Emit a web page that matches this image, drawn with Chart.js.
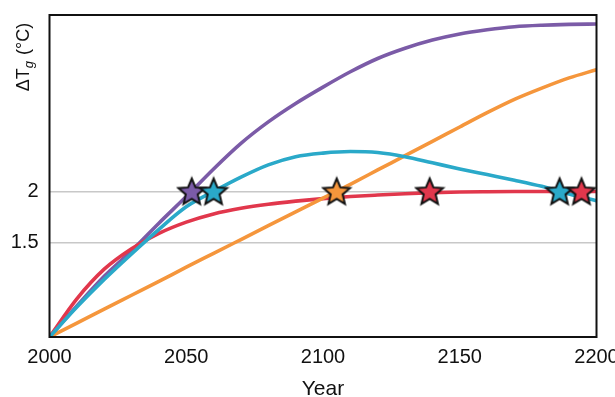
<!DOCTYPE html>
<html>
<head>
<meta charset="utf-8">
<script src="https://cdn.jsdelivr.net/npm/chart.js@4"></script>
<style>
  html, body { margin: 0; padding: 0; background: #fff; }
</style>
</head>
<body>
<canvas id="chart" width="615" height="397"></canvas>
<script>
// data
const years = [2000, 2010, 2020, 2030, 2040, 2050, 2060, 2070, 2080, 2090, 2100,
               2110, 2120, 2130, 2140, 2150, 2160, 2170, 2180, 2190, 2200];
const purpleVals = [0.577, 0.88, 1.17, 1.42, 1.69, 1.95, 2.22, 2.47, 2.68, 2.86, 3.02,
                    3.17, 3.30, 3.40, 3.48, 3.54, 3.58, 3.61, 3.625, 3.633, 3.637];
const cyanVals   = [0.577, 0.87, 1.14, 1.39, 1.63, 1.85, 2.0, 2.14, 2.26, 2.34, 2.375,
                    2.39, 2.38, 2.34, 2.28, 2.22, 2.165, 2.11, 2.05, 1.975, 1.91];
const redVals    = [0.577, 0.95, 1.24, 1.44, 1.59, 1.70, 1.78, 1.835, 1.875, 1.905, 1.93,
                    1.95, 1.965, 1.978, 1.988, 1.994, 1.997, 1.999, 2.0, 2.0, 2.0];
const orangeVals = [0.577, 0.713, 0.85, 0.985, 1.12, 1.26, 1.395, 1.53, 1.665, 1.80, 1.935,
                    2.07, 2.21, 2.35, 2.49, 2.63, 2.77, 2.90, 3.01, 3.11, 3.19];

// stars where each path hits 2 degrees
const starYears  = [2052, 2060, 2105, 2139, 2186.5, 2194.5];
const starValues = [2, 2, 2, 2, 2, 2];
const starSeries = ['purple', 'cyan', 'orange', 'red', 'cyan', 'red'];

const yTicks = [1.5, 2];
const xTicks = [2000, 2050, 2100, 2150, 2200];

const colors = {
  purple: '#7b5ba7',
  cyan: '#2aa9c9',
  red: '#e1374c',
  orange: '#f5963c'
};

const FONT = '"Liberation Sans", Arial, sans-serif';

function makeStar(color) {
  const c = document.createElement('canvas');
  c.width = 32; c.height = 32;
  const g = c.getContext('2d');
  g.beginPath();
  for (let i = 0; i < 10; i++) {
    const r = i % 2 ? 6.3 : 14;
    const a = -Math.PI / 2 + i * Math.PI / 5;
    g.lineTo(16 + r * Math.cos(a), 17 + r * Math.sin(a));
  }
  g.closePath();
  g.fillStyle = color;
  g.fill();
  g.lineWidth = 2;
  g.strokeStyle = '#111';
  g.stroke();
  return c;
}

function toPoints(xs, ys) {
  return xs.map((x, i) => ({ x: x, y: ys[i] }));
}

function lineSet(vals, color, order) {
  return {
    data: toPoints(years, vals),
    borderColor: color,
    borderWidth: 3.6,
    pointRadius: 0,
    cubicInterpolationMode: 'monotone',
    fill: false,
    order: order
  };
}

const frame = {
  id: 'frame',
  afterDraw(chart) {
    const { ctx, chartArea: a } = chart;
    ctx.save();
    ctx.strokeStyle = '#111';
    ctx.lineWidth = 2;
    ctx.strokeRect(a.left, a.top, a.right - a.left, a.bottom - a.top);

    // y axis title with subscript g
    ctx.translate(24, 57);
    ctx.rotate(-Math.PI / 2);
    ctx.fillStyle = '#111';
    ctx.textBaseline = 'middle';
    const big = '18px ' + FONT;
    const sub = 'italic 13px ' + FONT;
    ctx.font = big;
    const w1 = ctx.measureText('\u0394T').width;
    const w3 = ctx.measureText(' (\u00b0C)').width;
    ctx.font = sub;
    const w2 = ctx.measureText('g').width + 1;
    let x = -(w1 + w2 + w3) / 2;
    ctx.font = big;
    ctx.fillText('\u0394T', x, 0);
    x += w1;
    ctx.font = sub;
    ctx.fillText('g', x, 5);
    x += w2;
    ctx.font = big;
    ctx.fillText(' (\u00b0C)', x, 0);
    ctx.restore();
  }
};

const tickFont = { family: FONT, size: 20 };

new Chart(document.getElementById('chart'), {
  type: 'line',
  data: {
    datasets: [
      {
        data: toPoints(starYears, starValues),
        showLine: false,
        pointStyle: starSeries.map(s => makeStar(colors[s])),
        pointRadius: 14,
        order: 0,
        clip: 4
      },
      lineSet(cyanVals, colors.cyan, 1),
      lineSet(orangeVals, colors.orange, 2),
      lineSet(redVals, colors.red, 3),
      lineSet(purpleVals, colors.purple, 4)
    ]
  },
  options: {
    responsive: false,
    devicePixelRatio: 1,
    animation: false,
    layout: { padding: { top: 14, right: 18.5, left: 0, bottom: 0 } },
    plugins: {
      legend: { display: false },
      tooltip: { enabled: false }
    },
    scales: {
      x: {
        type: 'linear',
        min: 2000,
        max: 2200,
        afterBuildTicks: s => { s.ticks = xTicks.map(v => ({ value: v })); },
        afterFit: s => { s.height = 60; s.paddingLeft = 0; s.paddingRight = 0; },
        grid: { display: false, drawTicks: false },
        border: { display: false },
        ticks: {
          color: '#111',
          font: tickFont,
          padding: 8,
          maxRotation: 0,
          callback: v => String(v)
        },
        title: {
          display: true,
          text: 'Year',
          color: '#111',
          font: { family: FONT, size: 21 },
          padding: { top: 0, bottom: -5 }
        }
      },
      y: {
        min: 0.577,
        max: 3.725,
        afterBuildTicks: s => { s.ticks = yTicks.map(v => ({ value: v })); },
        afterFit: s => { s.width = 49.5; s.paddingTop = 0; s.paddingBottom = 0; },
        grid: { color: '#c8c8c8', lineWidth: 1.5, drawTicks: false },
        border: { display: false },
        ticks: {
          color: '#111',
          font: tickFont,
          padding: 11,
          callback: v => String(v)
        }
      }
    }
  },
  plugins: [frame]
});
</script>
</body>
</html>
